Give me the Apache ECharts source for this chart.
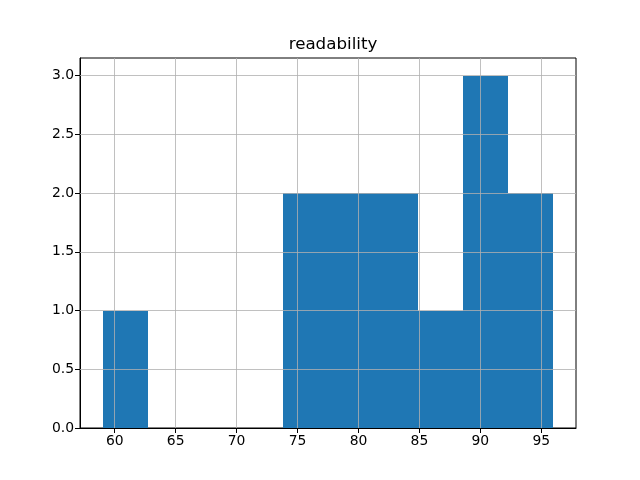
<!DOCTYPE html>
<html>
<head>
<meta charset="utf-8">
<script src="https://cdn.jsdelivr.net/npm/echarts@6/dist/echarts.min.js"></script>
<style>html,body{margin:0;padding:0;background:#fff}#c{width:640px;height:480px}</style>
</head>
<body>
<div id="c"></div>
<script>
const title = 'readability';
const binStarts = [59.0, 62.7, 66.4, 70.1, 73.8, 77.5, 81.2, 84.9, 88.6, 92.3];
const binEnds   = [62.7, 66.4, 70.1, 73.8, 77.5, 81.2, 84.9, 88.6, 92.3, 96.0];
const counts    = [1, 0, 0, 0, 2, 2, 2, 1, 3, 2];
const xTicks = [60, 65, 70, 75, 80, 85, 90, 95];
const yTicks = [0, 0.5, 1.0, 1.5, 2.0, 2.5, 3.0];

const data = binStarts.map((s, i) => [s, binEnds[i], counts[i]]);
const font = 'DejaVu Sans';
const gridColor = '#b0b0b0';

const chart = echarts.init(document.getElementById('c'), null, {renderer: 'canvas'});
chart.setOption({
  animation: false,
  backgroundColor: '#fff',
  title: {
    text: title, left: 328, top: 31, textAlign: 'center',
    textStyle: {fontFamily: font, fontSize: 16.7, fontWeight: 'normal', color: '#000'}
  },
  grid: {left: 80, right: 64, top: 58, bottom: 52, show: true, borderColor: '#000', borderWidth: 1, backgroundColor: 'transparent'},
  xAxis: {
    type: 'value', min: 57.15, max: 97.85,
    axisLine: {show: true, lineStyle: {color: '#000', width: 1}},
    axisTick: {show: true, customValues: xTicks, length: 5, lineStyle: {color: '#000'}},
    axisLabel: {customValues: xTicks, fontFamily: font, fontSize: 13.9, color: '#000', margin: 6},
    splitLine: {show: false}
  },
  yAxis: {
    type: 'value', min: 0, max: 3.15,
    axisLine: {show: true, lineStyle: {color: '#000', width: 1}},
    axisTick: {show: true, customValues: yTicks, length: 5, lineStyle: {color: '#000'}},
    axisLabel: {customValues: yTicks, fontFamily: font, fontSize: 13.9, color: '#000', margin: 6,
      formatter: v => Number(v).toFixed(1)},
    splitLine: {show: false}
  },
  series: [
    {
      type: 'custom', z: 2,
      data: data,
      renderItem: function (params, api) {
        if (api.value(2) <= 0) return null;
        const p0 = api.coord([api.value(0), api.value(2)]);
        const p1 = api.coord([api.value(1), 0]);
        const x0 = Math.round(p0[0]), x1 = Math.round(p1[0]);
        const y0 = Math.round(p0[1]), y1 = Math.round(p1[1]);
        return {
          type: 'rect',
          shape: {x: x0, y: y0, width: x1 - x0, height: y1 - y0},
          style: {fill: '#1f77b4', stroke: null}
        };
      },
      encode: {x: [0, 1], y: 2}
    },
    {
      type: 'line', data: [], z: 5, silent: true,
      markLine: {
        silent: true, symbol: ['none', 'none'], z: 5,
        label: {show: false},
        lineStyle: {color: gridColor, width: 0.8, type: 'solid'},
        data: xTicks.map(v => ({xAxis: v})).concat(yTicks.slice(1).map(v => ({yAxis: v})))
      }
    }
  ]
});
</script>
</body>
</html>
